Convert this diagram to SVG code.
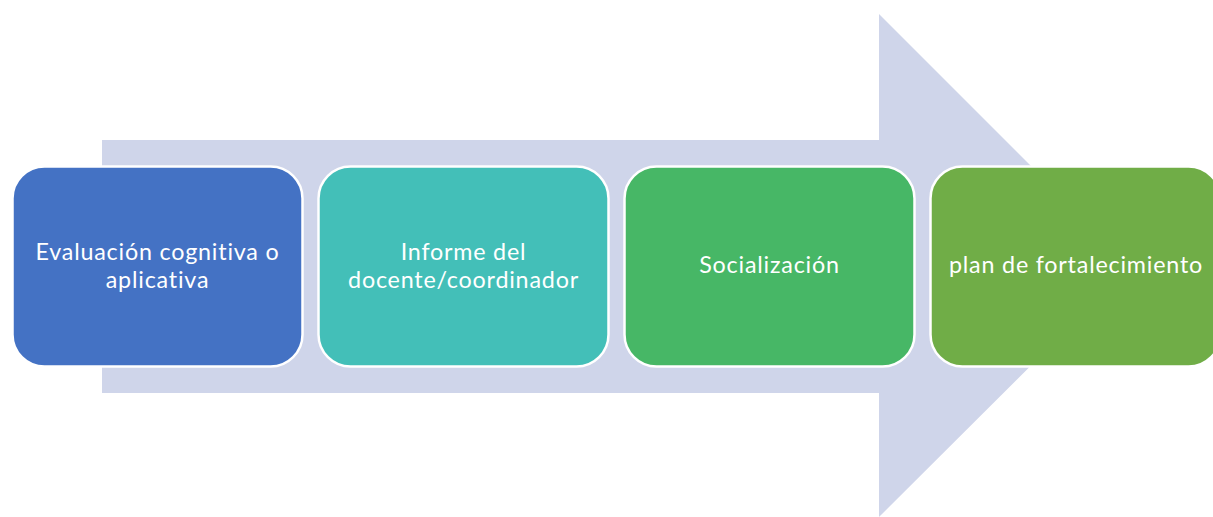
<svg xmlns="http://www.w3.org/2000/svg" width="1213" height="517" viewBox="0 0 1213 517">
<style>
.box{stroke:#ffffff;stroke-width:2.5}
.lbl{font-family:Lato,"Open Sans","Liberation Sans",sans-serif;font-size:23.3px;letter-spacing:0.8px;font-variant-ligatures:none;fill:#ffffff;text-anchor:middle}
</style>
<rect width="1213" height="517" fill="#ffffff"/>
<g id="connectors">
<polygon id="arrow" points="102,140 879,140 879,14 1131,266 879,517 879,393 102,393" fill="#cfd5ea"/>
</g>
<g id="node1">
<rect class="box" x="12.5" y="166.5" width="290" height="200" rx="32" fill="#4472c4"/>
<text class="lbl" x="157.5" y="260">Evaluación cognitiva o</text>
<text class="lbl" x="157.5" y="288">aplicativa</text>
</g>
<g id="node2">
<rect class="box" x="318.5" y="166.5" width="290" height="200" rx="32" fill="#43bfb8"/>
<text class="lbl" x="463.5" y="260">Informe del</text>
<text class="lbl" x="463.5" y="288">docente/coordinador</text>
</g>
<g id="node3">
<rect class="box" x="624.5" y="166.5" width="290" height="200" rx="32" fill="#47b766"/>
<text class="lbl" x="769.5" y="273">Socialización</text>
</g>
<g id="node4">
<rect class="box" x="930.5" y="166.5" width="290" height="200" rx="32" fill="#70ad47"/>
<text class="lbl" x="1076" y="273">plan de fortalecimiento</text>
</g>
</svg>
